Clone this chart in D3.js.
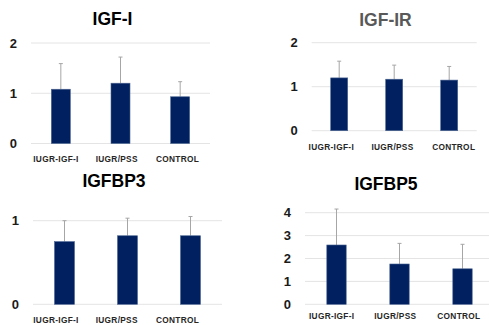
<!DOCTYPE html>
<html><head><meta charset="utf-8">
<script src="https://cdn.jsdelivr.net/npm/d3@7/dist/d3.min.js"></script>
<style>
html,body{margin:0;padding:0;background:#fff;}
svg{display:block;}
</style></head>
<body>
<svg id="chart" width="489" height="325"></svg>
<script>
// ---- data ----
const categories = ["IUGR-IGF-I", "IUGR/PSS", "CONTROL"];
const igf1Mean = [1.08, 1.20, 0.93];
const igf1Err  = [0.51, 0.52, 0.30];
const igf1rMean = [1.20, 1.17, 1.15];
const igf1rErr  = [0.38, 0.32, 0.31];
const igfbp3Mean = [0.75, 0.82, 0.82];
const igfbp3Err  = [0.25, 0.21, 0.23];
const igfbp5Mean = [2.59, 1.76, 1.55];
const igfbp5Err  = [1.57, 0.90, 1.07];
const ticks12 = [0, 1, 2];
const ticksBP3 = [0, 1];
const ticksBP5 = [0, 1, 2, 3, 4];

// ---- layout per panel ----
const panels = [
  {title:"IGF-I", titleColor:"#000", tx:112.5, ty:25, means:igf1Mean, errs:igf1Err, ticks:ticks12,
   x0:31, x1:210, gx1:210, y0:143.5, yTop:43, topVal:2, barW:19, labX:[25.6,207.9], labY:161.5},
  {title:"IGF-IR", titleColor:"#595959", tx:385.5, ty:25.5, means:igf1rMean, errs:igf1rErr, ticks:ticks12,
   x0:311.7, x1:476.7, gx1:476.7, y0:130.7, yTop:42.7, topVal:2, barW:17, labX:[300.7,484.3], labY:150},
  {title:"IGFBP3", titleColor:"#000", tx:114, ty:187, means:igfbp3Mean, errs:igfbp3Err, ticks:ticksBP3,
   x0:33, x1:222, gx1:222, y0:304.3, yTop:220.7, topVal:1, barW:20, labX:[25.6,207.9], labY:323},
  {title:"IGFBP5", titleColor:"#000", tx:386, ty:190, means:igfbp5Mean, errs:igfbp5Err, ticks:ticksBP5,
   x0:305, x1:494, gx1:489, y0:304.3, yTop:212.7, topVal:4, barW:19.4, labX:[299.9,490.7], labY:319}
];

const svg = d3.select("#chart");

panels.forEach(p => {
  const g = svg.append("g");
  const x = d3.scaleBand().domain(categories).range([p.x0, p.x1]);
  const xl = d3.scaleBand().domain(categories).range(p.labX);
  const y = d3.scaleLinear().domain([0, p.topVal]).range([p.y0, p.yTop]);

  // gridlines
  g.selectAll("line.grid").data(p.ticks).join("line")
    .attr("x1", p.x0).attr("x2", p.gx1)
    .attr("y1", d => y(d)).attr("y2", d => y(d))
    .attr("stroke", "#e4e4e4").attr("stroke-width", 1);

  // y tick labels
  g.selectAll("text.yt").data(p.ticks).join("text")
    .attr("x", p.x0 - 14).attr("y", d => y(d))
    .attr("dy", "0.36em").attr("text-anchor", "end")
    .attr("font-family", "Liberation Sans, Arial, sans-serif")
    .attr("font-weight", "bold").attr("font-size", 13)
    .attr("fill", "#1a1a1a").text(d => d);

  const data = categories.map((c, i) => ({c, m: p.means[i], e: p.errs[i]}));

  // error bars (drawn behind the bars)
  g.selectAll("line.err").data(data).join("line")
    .attr("x1", d => x(d.c) + x.bandwidth()/2).attr("x2", d => x(d.c) + x.bandwidth()/2)
    .attr("y1", d => y(d.m)).attr("y2", d => y(d.m + d.e))
    .attr("stroke", "#a6a6a6").attr("stroke-width", 1);
  g.selectAll("line.cap").data(data).join("line")
    .attr("x1", d => x(d.c) + x.bandwidth()/2 - 2).attr("x2", d => x(d.c) + x.bandwidth()/2 + 2)
    .attr("y1", d => y(d.m + d.e)).attr("y2", d => y(d.m + d.e))
    .attr("stroke", "#a6a6a6").attr("stroke-width", 1);

  // bars
  g.selectAll("rect").data(data).join("rect")
    .attr("x", d => x(d.c) + x.bandwidth()/2 - p.barW/2)
    .attr("width", p.barW)
    .attr("y", d => y(d.m))
    .attr("height", d => y(0) - y(d.m))
    .attr("fill", "#00205f")
    .attr("stroke", "#4a6592").attr("stroke-width", 0.6);

  // category labels
  g.selectAll("text.cat").data(categories).join("text")
    .attr("x", d => xl(d) + xl.bandwidth()/2).attr("y", p.labY)
    .attr("text-anchor", "middle")
    .attr("font-family", "Liberation Sans, Arial, sans-serif")
    .attr("font-size", 8.3).attr("letter-spacing", 0.3)
    .attr("font-weight", "bold")
    .attr("fill", "#262626").text(d => d);

  // title
  g.append("text")
    .attr("x", p.tx).attr("y", p.ty).attr("text-anchor", "middle")
    .attr("font-family", "Liberation Sans, Arial, sans-serif")
    .attr("font-weight", "bold").attr("font-size", 17.5)
    .attr("fill", p.titleColor).text(p.title);
});
</script>
</body></html>
